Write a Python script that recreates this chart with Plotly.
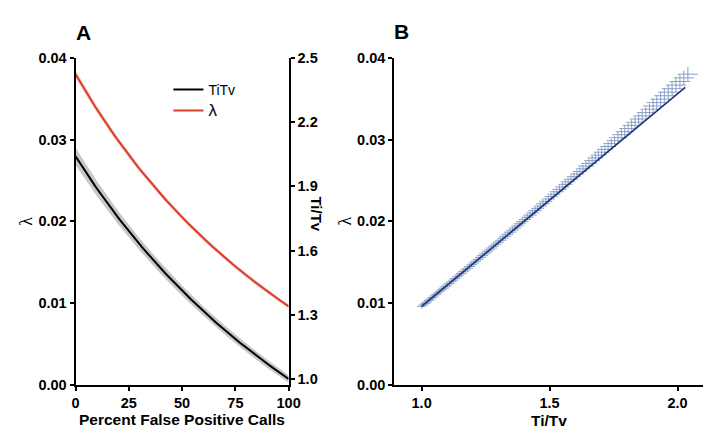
import numpy as np
import plotly.graph_objects as go

# ---------------- data ----------------
percent_fp = list(range(0, 101))

titv = [2.0404, 2.0247, 2.0092, 1.9937, 1.9785, 1.9634, 1.9484, 1.9337, 1.9190, 1.9045,
        1.8902, 1.8760, 1.8619, 1.8480, 1.8341, 1.8205, 1.8069, 1.7935, 1.7802, 1.7671,
        1.7541, 1.7412, 1.7284, 1.7157, 1.7032, 1.6907, 1.6784, 1.6662, 1.6541, 1.6421,
        1.6302, 1.6184, 1.6068, 1.5952, 1.5837, 1.5723, 1.5611, 1.5499, 1.5388, 1.5279,
        1.5170, 1.5062, 1.4955, 1.4849, 1.4744, 1.4640, 1.4536, 1.4434, 1.4332, 1.4231,
        1.4131, 1.4032, 1.3934, 1.3836, 1.3739, 1.3644, 1.3548, 1.3454, 1.3360, 1.3267,
        1.3175, 1.3084, 1.2993, 1.2903, 1.2813, 1.2725, 1.2637, 1.2549, 1.2463, 1.2377,
        1.2292, 1.2207, 1.2123, 1.2039, 1.1957, 1.1875, 1.1793, 1.1712, 1.1632, 1.1552,
        1.1473, 1.1395, 1.1317, 1.1239, 1.1162, 1.1086, 1.1010, 1.0935, 1.0860, 1.0786,
        1.0713, 1.0639, 1.0567, 1.0495, 1.0423, 1.0352, 1.0281, 1.0211, 1.0142, 1.0073,
        1.0004]

lam = [0.03801, 0.03756, 0.03711, 0.03667, 0.03623, 0.03580, 0.03537, 0.03495, 0.03453, 0.03412,
       0.03372, 0.03331, 0.03291, 0.03252, 0.03213, 0.03174, 0.03136, 0.03098, 0.03061, 0.03024,
       0.02988, 0.02952, 0.02916, 0.02881, 0.02846, 0.02811, 0.02777, 0.02743, 0.02709, 0.02676,
       0.02643, 0.02611, 0.02579, 0.02547, 0.02515, 0.02484, 0.02453, 0.02422, 0.02392, 0.02362,
       0.02332, 0.02303, 0.02274, 0.02245, 0.02216, 0.02188, 0.02160, 0.02132, 0.02105, 0.02077,
       0.02050, 0.02024, 0.01997, 0.01971, 0.01945, 0.01919, 0.01893, 0.01868, 0.01843, 0.01818,
       0.01794, 0.01769, 0.01745, 0.01721, 0.01697, 0.01674, 0.01650, 0.01627, 0.01604, 0.01581,
       0.01559, 0.01536, 0.01514, 0.01492, 0.01470, 0.01449, 0.01427, 0.01406, 0.01385, 0.01364,
       0.01343, 0.01323, 0.01302, 0.01282, 0.01262, 0.01242, 0.01222, 0.01202, 0.01183, 0.01164,
       0.01145, 0.01125, 0.01107, 0.01088, 0.01069, 0.01051, 0.01033, 0.01014, 0.00997, 0.00979,
       0.00961]

# confidence half-widths at every 10 % (0, 10, ..., 100)
titv_ci = [0.040, 0.035, 0.031, 0.028, 0.026, 0.024, 0.022, 0.021, 0.020, 0.019, 0.018]
lam_band = [0.00045, 0.00040, 0.00036, 0.00033, 0.00031, 0.00029, 0.00027, 0.00026, 0.00025, 0.00024, 0.00023]
lam_err = [0.00090, 0.00070, 0.00058, 0.00050, 0.00045, 0.00040, 0.00036, 0.00033, 0.00031, 0.00030, 0.00030]

# regression line of panel B
fit_titv = [1.0, 2.03]
fit_lam = [0.0096, 0.0364]

left_ticks = [0.00, 0.01, 0.02, 0.03, 0.04]
right_ticks = [1.0, 1.3, 1.6, 1.9, 2.2, 2.5]
pct_ticks = [0, 25, 50, 75, 100]
b_ticks = [1.0, 1.5, 2.0]

# ---------------- figure ----------------
W, H = 714, 434
FONT = "Liberation Sans"
RED = "#d9402b"
GREY_BAND = "rgba(185,185,185,0.8)"
PINK_BAND = "rgba(235,150,140,0.55)"
CROSS = "rgba(120,145,195,0.85)"
NAVY = "#1d3570"

fig = go.Figure()

bx = percent_fp[::10]
t10 = np.array(titv[::10])
l10 = np.array(lam[::10])
tci = np.array(titv_ci)
lb = np.array(lam_band)

# bands
fig.add_trace(go.Scatter(x=bx + bx[::-1], y=list(t10 + tci) + list((t10 - tci)[::-1]),
                         fill="toself", fillcolor=GREY_BAND, line=dict(width=0),
                         mode="lines", hoverinfo="skip", showlegend=False,
                         xaxis="x", yaxis="y2"))
fig.add_trace(go.Scatter(x=bx + bx[::-1], y=list(l10 + lb) + list((l10 - lb)[::-1]),
                         fill="toself", fillcolor=PINK_BAND, line=dict(width=0),
                         mode="lines", hoverinfo="skip", showlegend=False,
                         xaxis="x", yaxis="y"))
# lines
fig.add_trace(go.Scatter(x=percent_fp, y=titv, mode="lines", name="TiTv",
                         line=dict(color="black", width=2), xaxis="x", yaxis="y2"))
fig.add_trace(go.Scatter(x=percent_fp, y=lam, mode="lines",
                         name="<span style='font-size:17px'>λ</span>",
                         line=dict(color=RED, width=2), xaxis="x", yaxis="y"))

# panel B
ex = list(np.repeat(titv_ci[:10], 10)) + [titv_ci[10]]
ey = list(np.repeat(lam_err[:10], 10)) + [lam_err[10]]
fig.add_trace(go.Scatter(x=titv, y=lam, mode="markers",
                         marker=dict(size=1, color=CROSS),
                         error_x=dict(type="data", array=ex, color=CROSS, thickness=1, width=0),
                         error_y=dict(type="data", array=ey, color=CROSS, thickness=1, width=0),
                         showlegend=False, xaxis="x3", yaxis="y3"))
fig.add_trace(go.Scatter(x=fit_titv, y=fit_lam, mode="lines",
                         line=dict(color=NAVY, width=1.6), showlegend=False,
                         xaxis="x3", yaxis="y3"))

tickfont = dict(family=FONT, size=14.5, color="black", weight="bold")
axis_common = dict(showgrid=False, zeroline=False, showline=True, linecolor="black",
                   linewidth=2, ticks="outside", ticklen=4, tickwidth=2, tickcolor="black",
                   tickfont=tickfont, mirror=False)

ya_top = 1 - 43.5 / H
ya_bot = 1 - 383 / H

fig.update_layout(
    width=W, height=H,
    margin=dict(l=0, r=0, t=0, b=0),
    paper_bgcolor="white", plot_bgcolor="white",
    xaxis=dict(domain=[65 / W, 283 / W], range=[0, 100], tickvals=pct_ticks,
               anchor="y", **axis_common),
    yaxis=dict(domain=[ya_bot, ya_top], range=[0, 0.04], tickvals=left_ticks,
               tickformat=".2f", anchor="x", **axis_common),
    yaxis2=dict(domain=[ya_bot, ya_top], range=[0.973, 2.5], tickvals=right_ticks,
                tickformat=".1f", overlaying="y", side="right", anchor="x", **axis_common),
    xaxis3=dict(domain=[391 / W, 707 / W], range=[0.893, 2.1], tickvals=b_ticks,
                tickformat=".1f", anchor="y3", **axis_common),
    yaxis3=dict(domain=[ya_bot, ya_top], range=[0, 0.04], tickvals=left_ticks,
                tickformat=".2f", anchor="x3", **axis_common),
    legend=dict(x=160 / W, y=1 - 60 / H, xanchor="left", yanchor="top",
                bgcolor="rgba(0,0,0,0)", font=dict(family=FONT, size=14, color="black"),
                tracegroupgap=0, itemwidth=30),
    showlegend=True,
)

def ann(text, x, y, size, bold=False, angle=0, family=FONT):
    fig.add_annotation(text=text, x=x / W, y=1 - y / H, xref="paper", yref="paper",
                       showarrow=False, textangle=angle, xanchor="center", yanchor="middle",
                       font=dict(family=family, size=size, color="black",
                                 weight="bold" if bold else "normal"))

ann("A", 73, 17, 21, bold=True)
ann("B", 398, 16, 21, bold=True)
ann("Percent False Positive Calls", 174, 419, 15.5, bold=True)
ann("Ti/Tv", 549, 420, 15.5, bold=True)
ann("λ", 14, 213, 18, angle=-90, family="Liberation Serif")
ann("λ", 341, 213, 18, angle=-90, family="Liberation Serif")
ann("Ti/Tv", 312, 205, 15, bold=True, angle=90)

fig.write_html("out.html")
